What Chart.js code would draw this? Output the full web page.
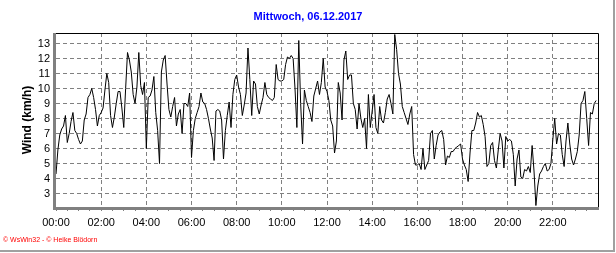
<!DOCTYPE html>
<html>
<head>
<meta charset="utf-8">
<title>Wind 06.12.2017</title>
<script src="https://cdn.jsdelivr.net/npm/chart.js@4.4.0/dist/chart.umd.min.js"></script>
<style>
  html, body { margin: 0; padding: 0; background: #fff; }
  #wrap { width: 616px; height: 253px; }
</style>
</head>
<body>
<div id="wrap"><canvas id="windChart" width="616" height="253"></canvas></div>
<script>
// === Daten: Wind (km/h), alle 5 Minuten ab 00:00 ===
const windNight = [
  4.3, 5.9, 6.9, 7.3, 7.5, 8.2, 6.4, 7.0, 7.8, 8.4, 7.2, 7.0,
  6.6, 6.3, 6.5, 7.9, 8.3, 9.4, 9.6, 10.0, 9.4, 8.6, 7.5, 8.2,
  8.4, 8.7, 9.9, 11.0, 10.4, 8.2, 7.4, 8.1, 9.0, 9.8, 9.8, 8.7,
  7.4, 10.0, 12.4, 11.9, 11.1, 9.6, 9.0, 10.1, 12.4, 10.2, 9.6, 10.4,
  6.0, 9.4, 9.5, 9.9, 10.8, 8.4, 7.2, 5.0, 11.1, 11.9, 12.2, 10.3,
  8.6, 8.1, 8.8, 9.4, 7.5, 8.3, 8.6, 7.0, 9.0, 9.0, 8.8, 9.7
];
const windMorning = [
  5.4, 7.2, 8.0, 8.4, 8.8, 9.7, 9.1, 9.0, 8.6, 8.0, 7.3, 6.7,
  5.2, 8.5, 8.6, 8.5, 7.9, 5.3, 7.2, 8.2, 9.1, 7.4, 9.6, 10.6,
  10.9, 10.1, 9.6, 8.2, 8.9, 9.7, 12.7, 10.6, 8.2, 10.5, 10.3, 8.8,
  8.3, 8.9, 9.4, 10.4, 9.6, 9.4, 9.3, 9.2, 9.4, 11.6, 10.6, 10.5,
  10.5, 10.6, 11.6, 12.1, 12.0, 12.2, 12.0, 10.0, 7.4, 13.2, 9.0, 6.3,
  9.9, 9.2, 8.8, 8.4, 7.8, 9.5, 10.0, 10.5, 9.6, 10.4, 12.0, 10.1
];
const windAfternoon = [
  9.8, 9.2, 7.9, 7.5, 5.7, 6.5, 10.4, 9.7, 7.9, 11.9, 12.5, 10.6,
  10.9, 10.9, 9.0, 8.6, 7.3, 9.0, 8.0, 7.4, 8.0, 6.0, 9.6, 7.4,
  8.5, 9.6, 7.4, 7.0, 8.8, 7.9, 7.7, 8.4, 9.3, 9.6, 9.0, 8.3,
  13.6, 12.6, 11.0, 10.3, 8.8, 8.4, 8.0, 7.6, 8.3, 8.8, 5.6, 4.9,
  4.9, 5.0, 4.6, 6.0, 4.6, 4.9, 5.2, 7.0, 7.2, 5.3, 6.2, 6.9,
  7.1, 7.2, 6.6, 4.9, 5.5, 5.4, 5.8, 5.8, 6.0, 6.1, 6.2, 6.3
];
const windEvening = [
  5.3, 4.9, 4.6, 3.8, 5.7, 7.2, 7.2, 7.7, 8.4, 8.1, 8.2, 7.6,
  6.8, 4.8, 5.0, 6.2, 6.4, 5.2, 4.7, 5.9, 7.0, 6.5, 4.7, 6.8,
  6.5, 6.6, 6.5, 5.6, 3.5, 5.3, 5.9, 4.1, 4.0, 4.6, 4.5, 4.8,
  4.4, 6.2, 4.5, 2.2, 3.5, 4.3, 4.5, 4.8, 5.0, 4.5, 4.6, 5.0,
  6.6, 8.0, 6.3, 7.0, 6.9, 5.6, 4.8, 6.5, 7.7, 6.3, 5.3, 4.9,
  5.3, 5.8, 6.9, 9.0, 9.2, 9.8, 8.0, 6.2, 8.4, 8.3, 9.0, 9.2
];
const wind = [...windNight, ...windMorning, ...windAfternoon, ...windEvening];
const sampleMinutes = wind.map((v, i) => i * 5);

const xTickLabels = ['00:00', '02:00', '04:00', '06:00', '08:00', '10:00',
                     '12:00', '14:00', '16:00', '18:00', '20:00', '22:00'];
const yTickLabels = [3, 4, 5, 6, 7, 8, 9, 10, 11, 12, 13];
const titleText = 'Mittwoch, 06.12.2017';
const creditText = '\u00A9 WsWin32 - \u00A9 Heike Blödorn';

// Nebenstriche alle 30 Minuten, beschriftet nur alle 2 Stunden
const xTickMinutes = [];
for (let m = 0; m < 1440; m += 30) xTickMinutes.push(m);

const labelFont = { family: "'Liberation Sans', Arial, sans-serif", size: 11 };

// === Rahmen, Titel, Copyright ===
const framePlugin = {
  id: 'frame',
  afterDraw(chart) {
    const { ctx, chartArea: a, width, height } = chart;
    ctx.save();
    // Rahmen oben/rechts schwarz
    ctx.strokeStyle = '#000';
    ctx.lineWidth = 1;
    ctx.beginPath();
    ctx.moveTo(a.left, a.top + 0.5);
    ctx.lineTo(a.right + 0.5, a.top + 0.5);
    ctx.lineTo(a.right + 0.5, a.bottom);
    ctx.stroke();
    // Achsen links/unten grau und dick
    ctx.strokeStyle = '#808080';
    ctx.lineWidth = 3;
    ctx.beginPath();
    ctx.moveTo(a.left - 1.5, a.top);
    ctx.lineTo(a.left - 1.5, a.bottom + 1.5);
    ctx.lineTo(a.right + 1, a.bottom + 1.5);
    ctx.stroke();
    // aeusserer Rand
    ctx.strokeStyle = '#a0a0a0';
    ctx.lineWidth = 2;
    ctx.beginPath();
    ctx.moveTo(width - 2, 0);
    ctx.lineTo(width - 2, height - 2);
    ctx.lineTo(0, height - 2);
    ctx.stroke();
    // Titel
    ctx.fillStyle = '#0000ff';
    ctx.font = "bold 11px 'Liberation Sans', Arial, sans-serif";
    ctx.textAlign = 'center';
    ctx.textBaseline = 'middle';
    ctx.fillText(titleText, 308, 17);
    // Copyright
    ctx.fillStyle = '#ff0000';
    ctx.font = "7px 'Liberation Sans', Arial, sans-serif";
    ctx.textAlign = 'left';
    ctx.fillText(creditText, 3, 240);
    ctx.restore();
  }
};

new Chart(document.getElementById('windChart'), {
  type: 'line',
  data: {
    datasets: [{
      data: wind.map((v, i) => ({ x: sampleMinutes[i], y: v })),
      borderColor: '#000',
      borderWidth: 1,
      pointRadius: 0,
      tension: 0,
      fill: false
    }]
  },
  options: {
    responsive: false,
    devicePixelRatio: 1,
    animation: false,
    events: [],
    layout: { padding: { left: 0, right: 18, top: 33, bottom: 0 } },
    plugins: { legend: { display: false }, tooltip: { enabled: false }, title: { display: false } },
    scales: {
      x: {
        type: 'linear',
        min: 0,
        max: 1440,
        afterBuildTicks: s => { s.ticks = xTickMinutes.map(v => ({ value: v })); },
        afterFit: s => { s.height = 46; },
        ticks: {
          autoSkip: false,
          maxRotation: 0,
          padding: 5,
          color: '#000',
          font: labelFont,
          callback: v => (v % 120 === 0 ? xTickLabels[v / 120] : '')
        },
        grid: {
          color: c => (c.tick && c.tick.value % 120 === 0 && c.tick.value > 0) ? '#808080' : 'rgba(0,0,0,0)',
          tickColor: '#808080',
          tickLength: 4,
          lineWidth: 1
        },
        border: { display: false, dash: [4, 3] }
      },
      y: {
        min: 2.1,
        max: 13.7,
        afterBuildTicks: s => { s.ticks = yTickLabels.map(v => ({ value: v })); },
        afterFit: s => { s.width = 56; },
        ticks: { autoSkip: false, padding: 3, color: '#000', font: labelFont },
        grid: { color: '#808080', tickColor: '#808080', tickLength: 3, lineWidth: 1 },
        border: { display: false, dash: [4, 3] },
        title: {
          display: true,
          text: 'Wind (km/h)',
          color: '#000',
          font: { family: "'Liberation Sans', Arial, sans-serif", size: 12, weight: 'bold' },
          padding: { top: 20, bottom: 0 }
        }
      }
    }
  },
  plugins: [framePlugin]
});
</script>
</body>
</html>
